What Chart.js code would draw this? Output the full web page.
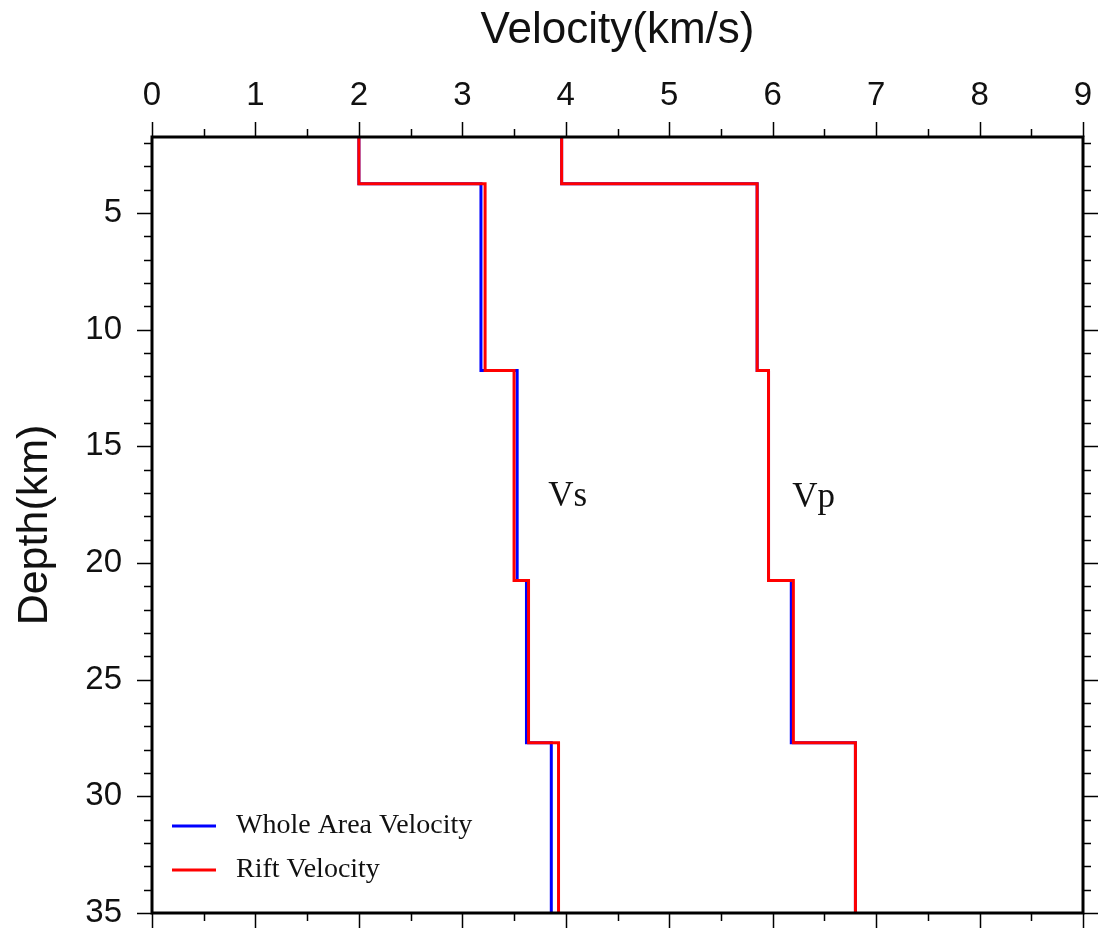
<!DOCTYPE html>
<html>
<head>
<meta charset="utf-8">
<script src="https://cdn.jsdelivr.net/npm/chart.js@4.4.1/dist/chart.umd.min.js"></script>
<style>
  html, body { margin: 0; padding: 0; background: #fff; }
  #wrap { width: 1099px; height: 934px; position: relative; }
</style>
</head>
<body>
<div id="wrap"><canvas id="chart" width="1099" height="934"></canvas></div>
<script>
/* ── Data ───────────────────────────────────────────── */
// layer boundaries (km), top of plot down to 35 km
const depthBounds = [1.75, 3.75, 11.75, 20.75, 27.7, 35];
// one velocity per layer (km/s)
const vsWhole = [2.00, 3.18, 3.53, 3.62, 3.86];
const vsRift  = [2.00, 3.22, 3.50, 3.64, 3.93];
const vpWhole = [3.96, 5.85, 5.96, 6.18, 6.80];
const vpRift  = [3.96, 5.85, 5.96, 6.20, 6.80];
const xTicks = [0, 1, 2, 3, 4, 5, 6, 7, 8, 9];
const yTicks = [5, 10, 15, 20, 25, 30, 35];
const legendItems = [
  { label: 'Whole Area Velocity', color: '#0000ff' },
  { label: 'Rift Velocity', color: '#ff0000' }
];
const notes = [
  { text: 'Vs', x: 3.83, y: 17.15 },
  { text: 'Vp', x: 6.19, y: 17.2 }
];

/* ── Step profile from layers ───────────────────────── */
function profile(vals) {
  const pts = [];
  vals.forEach((v, i) => {
    pts.push({ x: v, y: depthBounds[i] });
    pts.push({ x: v, y: depthBounds[i + 1] });
  });
  return pts;
}

/* ── Frame, ticks, legend, notes ────────────────────── */
const framePlugin = {
  id: 'frame',
  afterDatasetsDraw(chart) {
    const { ctx, chartArea: a, scales: { x, y } } = chart;
    ctx.save();
    ctx.strokeStyle = '#000';
    ctx.lineWidth = 1.5;
    ctx.beginPath();
    // x ticks every 0.5, top and bottom, outward
    for (let v = 0; v <= 9.001; v += 0.5) {
      const px = Math.round(x.getPixelForValue(v)) + 0.5;
      const len = Number.isInteger(v) ? 15 : 8;
      ctx.moveTo(px, a.top); ctx.lineTo(px, a.top - len);
      ctx.moveTo(px, a.bottom); ctx.lineTo(px, a.bottom + len);
    }
    // y ticks every 1 km, left and right, outward
    for (let v = 2; v <= 35; v += 1) {
      const py = Math.round(y.getPixelForValue(v)) + 0.5;
      const len = v % 5 === 0 ? 15 : 8;
      ctx.moveTo(a.left, py); ctx.lineTo(a.left - len, py);
      ctx.moveTo(a.right, py); ctx.lineTo(a.right + len, py);
    }
    ctx.stroke();
    ctx.lineWidth = 3;
    ctx.strokeRect(a.left, a.top, a.right - a.left, a.bottom - a.top);

    // legend, lower left inside plot
    ctx.font = '28px "Liberation Serif", "Times New Roman", serif';
    ctx.textBaseline = 'middle';
    ctx.fillStyle = '#111';
    legendItems.forEach((it, i) => {
      const ly = a.bottom - 87 + i * 44;
      ctx.strokeStyle = it.color;
      ctx.lineWidth = 3;
      ctx.beginPath();
      ctx.moveTo(a.left + 20, ly); ctx.lineTo(a.left + 64, ly);
      ctx.stroke();
      ctx.fillText(it.label, a.left + 84, ly);
    });

    // Vs / Vp labels
    ctx.font = '35px "Liberation Serif", "Times New Roman", serif';
    notes.forEach(n => {
      ctx.fillText(n.text, x.getPixelForValue(n.x), y.getPixelForValue(n.y));
    });
    ctx.restore();
  }
};

/* ── Chart ──────────────────────────────────────────── */
const sans = '"Liberation Sans", Arial, sans-serif';
const series = [
  { data: vsRift, color: '#ff0000' },
  { data: vpRift, color: '#ff0000' },
  { data: vsWhole, color: '#0000ff' },
  { data: vpWhole, color: '#0000ff' }
];

new Chart(document.getElementById('chart'), {
  type: 'line',
  data: {
    datasets: series.map(s => ({
      data: profile(s.data),
      borderColor: s.color,
      borderWidth: 3,
      pointRadius: 0,
      fill: false,
      tension: 0
    }))
  },
  options: {
    responsive: false,
    animation: false,
    events: [],
    layout: { padding: { left: 0, top: 0, right: 16, bottom: 21 } },
    plugins: { legend: { display: false }, tooltip: { enabled: false } },
    scales: {
      x: {
        type: 'linear',
        position: 'top',
        min: 0, max: 9,
        afterFit: s => { s.height = 137; s.paddingLeft = 0; s.paddingRight = 0; },
        afterBuildTicks: s => { s.ticks = xTicks.map(v => ({ value: v })); },
        grid: { display: false, drawTicks: false },
        border: { display: false },
        ticks: { color: '#111', padding: 21, font: { family: sans, size: 33 } },
        title: { display: true, text: 'Velocity(km/s)', color: '#111',
                 padding: { top: 4, bottom: 0 }, font: { family: sans, size: 44 } }
      },
      y: {
        type: 'linear',
        reverse: true,
        min: depthBounds[0], max: 35,
        afterFit: s => { s.width = 152; s.paddingTop = 0; s.paddingBottom = 0; },
        afterBuildTicks: s => { s.ticks = yTicks.map(v => ({ value: v })); },
        grid: { display: false, drawTicks: false },
        border: { display: false },
        ticks: { color: '#111', padding: 30, font: { family: sans, size: 33 } },
        title: { display: true, text: 'Depth(km)', color: '#111',
                 padding: { top: 9, bottom: 0 }, font: { family: sans, size: 43 } }
      }
    }
  },
  plugins: [framePlugin]
});
</script>
</body>
</html>
